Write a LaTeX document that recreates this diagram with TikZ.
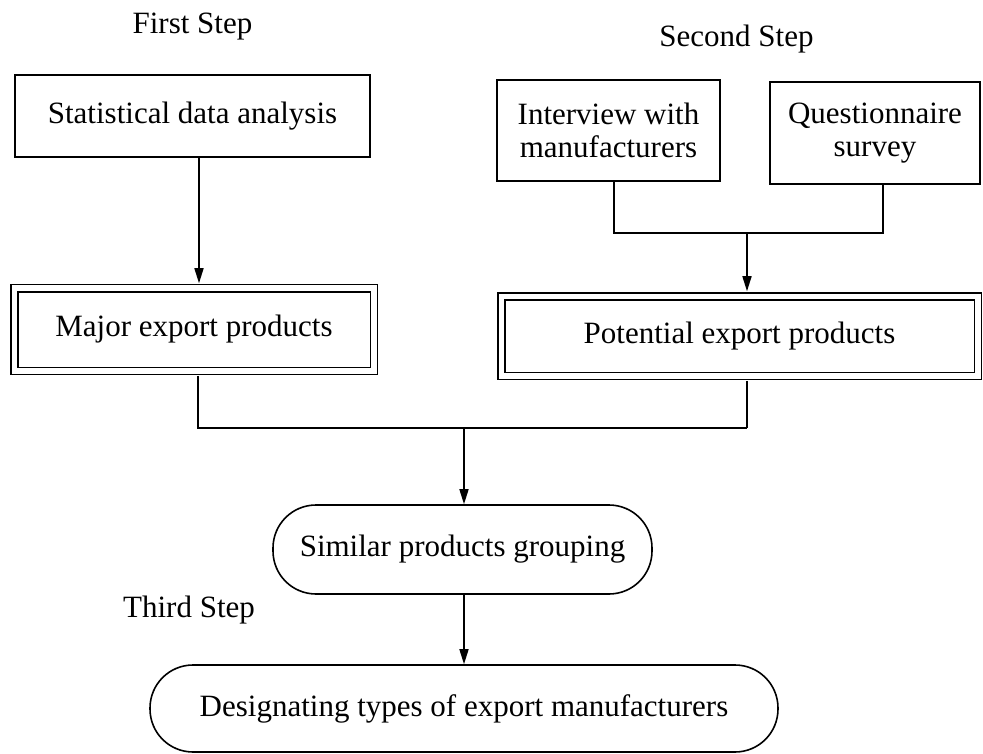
\documentclass[tikz,border=0pt]{standalone}
\usepackage{fontspec}
\setmainfont{Liberation Serif}
\usetikzlibrary{arrows.meta}
\begin{document}
\begin{tikzpicture}[x=1pt,y=-1pt,
  every node/.style={font=\fontsize{31}{33}\selectfont},
  box/.style={draw, line width=1.6pt, rectangle, inner sep=0pt, align=center},
  dbox/.style={draw, line width=1.5pt, double, double distance=5.5pt, inner sep=0pt},
  pill/.style={draw, line width=1.6pt, rectangle, rounded corners=43pt, inner sep=0pt},
  link/.style={line width=1.6pt},
  arr/.style={link, -{Triangle[length=15pt,width=9pt]}},
  steplabel/.style={anchor=base}]
\useasboundingbox (0,0) rectangle (983,754);

% step labels
\node[steplabel] (s1) at (192.5,34) {First Step};
\node[steplabel] (s2) at (736.5,47) {Second Step};
\node[steplabel] (s3) at (189,617) {Third Step};

% first step
\node[box, minimum width=355pt, minimum height=82pt] (stat) at (192.5,116) {Statistical data analysis};
\node[dbox, minimum width=359.5pt, minimum height=82.5pt] (major) at (194,329.5) {Major export products};

% second step
\node[box, minimum width=223pt, minimum height=101pt] (interview) at (608.5,130.5) {Interview with\\manufacturers};
\node[box, minimum width=210pt, minimum height=102pt] (quest) at (875,133) {Questionnaire\\survey};
\node[dbox, minimum width=476.5pt, minimum height=79.5pt] (potential) at (739.5,336) {Potential export products};

% third step
\node[pill, minimum width=379pt, minimum height=89pt] (similar) at (462.5,549.5) {Similar products grouping};
\node[pill, minimum width=628pt, minimum height=87pt] (design) at (464,708.5) {Designating types of export manufacturers};

% junction points
\coordinate (a1) at (199,200);
\coordinate (j1) at (614,233);
\coordinate (j2) at (883,233);
\coordinate (j3) at (747,233);
\coordinate (k1) at (198,428);
\coordinate (k2) at (747,428);
\coordinate (k3) at (464,428);

% connectors
\draw[arr, shorten >=4.25pt] (a1 |- stat.south) -- (a1 |- major.north);
\draw[link] (j1 |- interview.south) -- (j1) -- (j2) -- (j2 |- quest.south);
\draw[arr, shorten >=4.25pt] (j3) -- (j3 |- potential.north);
\draw[link, shorten <=4.25pt] (k1 |- major.south) -- (k1) -- (k2);
\draw[link, shorten <=4.25pt] (k2 |- potential.south) -- (k2);
\draw[arr] (k3) -- (k3 |- similar.north);
\draw[arr] (k3 |- similar.south) -- (k3 |- design.north);
\end{tikzpicture}
\end{document}
